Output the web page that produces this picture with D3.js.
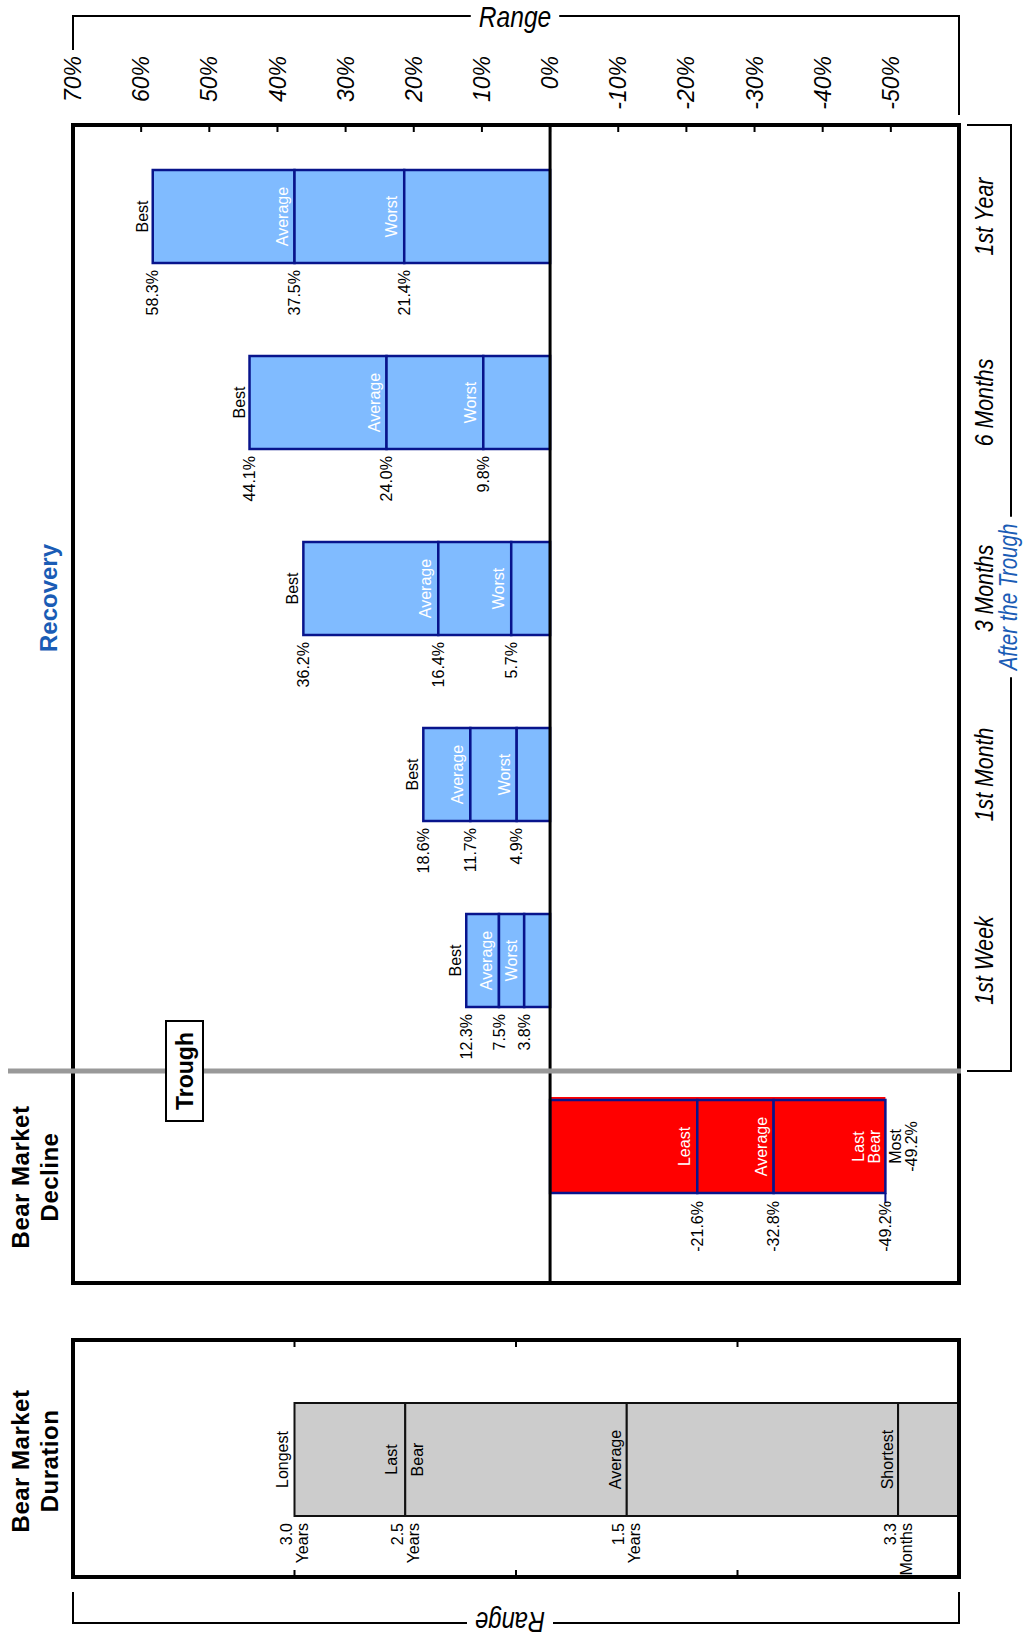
<!DOCTYPE html>
<html>
<head>
<meta charset="utf-8">
<script src="https://cdn.jsdelivr.net/npm/d3@7"></script>
<style>
  body { margin: 0; background: #fff; }
  svg { display: block; }
</style>
</head>
<body>
<script>
// ---- data -------------------------------------------------------------
const periods = ["1st Year", "6 Months", "3 Months", "1st Month", "1st Week"];
const bestReturns = [58.3, 44.1, 36.2, 18.6, 12.3];
const averageReturns = [37.5, 24.0, 16.4, 11.7, 7.5];
const worstReturns = [21.4, 9.8, 5.7, 4.9, 3.8];

const declineNames = ["Least", "Average", "Last Bear"];
const declineValues = [-21.6, -32.8, -49.2];

const durationNames = ["Longest", "Last Bear", "Average", "Shortest"];
const durationYears = [3.0, 2.5, 1.5, 0.275];
const durationText = ["3.0 Years", "2.5 Years", "1.5 Years", "3.3 Months"];

const pctTicks = [70, 60, 50, 40, 30, 20, 10, 0, -10, -20, -30, -40, -50];
const yearTicks = [1, 2, 3];

// ---- layout -----------------------------------------------------------
const W = 1024, H = 1638;
const L = 73, R = 959;
const upTop = 125, upBot = 1283;
const lowTop = 1340, lowBot = 1577;

const SANS = "'Liberation Sans', Arial, Helvetica, sans-serif";
const NARROW_SX = 0.82; // horizontal squeeze that gives a condensed face
const BLUE_FILL = "#80bbff", NAVY = "#08148c", RED = "#ff0000", GREY = "#cccccc";
const TITLE_BLUE = "#1a5cb5";

const svg = d3.select("body").append("svg").attr("width", W).attr("height", H);

const x = d3.scaleLinear().domain([70, -60]).range([L, R]);
const xd = d3.scaleLinear().domain([4, 0]).range([L, R]);
const rows = periods.concat(["Decline"]);
const y = d3.scaleBand().domain(rows).range([170, 1193]).paddingInner(0.5);
const bw = y.bandwidth();

// vertical (rotated) text helper: lines stack to the right
function vText(sel, px, py, lines, o) {
  const sx = o.sx || 1;
  const t = sel.append("text")
    .attr("transform", `translate(${px},${py}) rotate(${o.rot ?? -90}) scale(${sx},1)`)
    .attr("text-anchor", o.anchor || "middle")
    .attr("font-family", o.family || SANS)
    .attr("font-size", o.size)
    .attr("font-weight", o.weight || "normal")
    .attr("font-style", o.style || "normal")
    .attr("letter-spacing", o.ls || 0)
    .attr("fill", o.fill || "#000");
  const lh = o.lh || o.size;
  lines.forEach((s, i) => {
    t.append("tspan").attr("x", 0).attr("y", (o.base || 0) + i * lh).text(s);
  });
  return t;
}
const center1 = s => 0.35 * s;                      // baseline that centres one line
const center2 = (s, lh) => -(lh - 0.716 * s) / 2;   // first baseline centring two lines

// ---- recovery bars ----------------------------------------------------
const gBars = svg.append("g");
periods.forEach((p, i) => {
  const segs = [[bestReturns[i], averageReturns[i]], [averageReturns[i], worstReturns[i]], [worstReturns[i], 0]];
  segs.forEach(([a, b]) => {
    gBars.append("rect")
      .attr("x", x(a)).attr("y", y(p))
      .attr("width", x(b) - x(a)).attr("height", bw)
      .attr("fill", BLUE_FILL).attr("stroke", NAVY).attr("stroke-width", 2.5);
  });
  const mid = y(p) + bw / 2;
  vText(gBars, x(bestReturns[i]) - 5, mid, ["Best"], { size: 16 });
  vText(gBars, x(averageReturns[i]) - 7, mid, ["Average"], { size: 16, fill: "#fff" });
  vText(gBars, x(worstReturns[i]) - 7, mid, ["Worst"], { size: 16, fill: "#fff" });
  [bestReturns[i], averageReturns[i], worstReturns[i]].forEach(v => {
    vText(gBars, x(v), y(p) + bw + 7, [v.toFixed(1) + "%"], { size: 16, anchor: "end", base: center1(16) });
  });
});

// ---- bear market decline bar -----------------------------------------
const gDec = svg.append("g");
const dTop = y("Decline");
gDec.append("rect").attr("x", x(0)).attr("y", dTop - 3)
  .attr("width", x(declineValues[2]) - x(0)).attr("height", 4).attr("fill", RED);
[[0, declineValues[0]], [declineValues[0], declineValues[1]], [declineValues[1], declineValues[2]]].forEach(([a, b]) => {
  gDec.append("rect")
    .attr("x", x(a)).attr("y", dTop)
    .attr("width", x(b) - x(a)).attr("height", bw)
    .attr("fill", RED).attr("stroke", NAVY).attr("stroke-width", 2.5);
});
gDec.append("line")
  .attr("x1", x(declineValues[2])).attr("x2", x(declineValues[2]))
  .attr("y1", dTop + bw).attr("y2", dTop + bw + 10)
  .attr("stroke", NAVY).attr("stroke-width", 2);
const dMid = dTop + bw / 2;
vText(gDec, x(declineValues[0]) - 7, dMid, ["Least"], { size: 16, fill: "#fff" });
vText(gDec, x(declineValues[1]) - 7, dMid, ["Average"], { size: 16, fill: "#fff" });
vText(gDec, x(declineValues[2]) - 21, dMid, ["Last", "Bear"], { size: 16, fill: "#fff", lh: 16 });
vText(gDec, x(declineValues[2]) + 16, dMid, ["Most", declineValues[2].toFixed(1) + "%"], { size: 16, lh: 16 });
declineValues.forEach(v => {
  vText(gDec, x(v), dTop + bw + 8, [v.toFixed(1) + "%"], { size: 16, anchor: "end", base: center1(16) });
});

// ---- zero line, frame, ticks (upper panel) ---------------------------
svg.append("line")
  .attr("x1", x(0)).attr("x2", x(0)).attr("y1", upTop).attr("y2", upBot)
  .attr("stroke", "#000").attr("stroke-width", 3);
svg.append("rect")
  .attr("x", L).attr("y", upTop).attr("width", R - L).attr("height", upBot - upTop)
  .attr("fill", "none").attr("stroke", "#000").attr("stroke-width", 4);
svg.append("g").selectAll("line").data(d3.range(60, -60, -10)).join("line")
  .attr("x1", d => x(d)).attr("x2", d => x(d))
  .attr("y1", upTop).attr("y2", upTop + 7)
  .attr("stroke", "#000").attr("stroke-width", 2);

// tick labels along the top
const gTicks = svg.append("g");
pctTicks.forEach(v => {
  vText(gTicks, x(v), 56, [v + "%"], { size: 23, style: "italic", anchor: "end", base: center1(23) });
});

// top range bracket
const rangeTop = svg.append("text")
  .attr("transform", `translate(515,16) scale(${NARROW_SX},1)`).attr("dy", "0.35em")
  .attr("text-anchor", "middle").attr("font-family", SANS).attr("font-style", "italic")
  .attr("font-size", 30).text("Range");
const rw = rangeTop.node().getComputedTextLength() * NARROW_SX;
svg.append("path").attr("fill", "none").attr("stroke", "#000").attr("stroke-width", 2)
  .attr("d", `M${L},50 V16 H${515 - rw / 2 - 8} M${515 + rw / 2 + 8},16 H${R} V115`);

// ---- trough divider --------------------------------------------------
const troughY = dTop - 29;
svg.append("line")
  .attr("x1", 8).attr("x2", R + 2).attr("y1", troughY).attr("y2", troughY)
  .attr("stroke", "#999").attr("stroke-width", 5);
svg.append("rect").attr("x", 166).attr("y", troughY - 50).attr("width", 37).attr("height", 100)
  .attr("fill", "#fff").attr("stroke", "#000").attr("stroke-width", 2);
vText(svg, 184.5, troughY, ["Trough"], { size: 23, weight: "bold", base: center1(23) });

// right-hand period labels and bracket
const gRight = svg.append("g");
periods.forEach(p => {
  vText(gRight, 984, y(p) + bw / 2, [p], { size: 26, style: "italic", sx: NARROW_SX, base: center1(26) });
});
const afterY = 597;
const afterT = vText(gRight, 1008, afterY, ["After the Trough"], {
  size: 25, style: "italic", sx: NARROW_SX, fill: TITLE_BLUE, base: center1(25)
});
const aw = afterT.node().getComputedTextLength() * NARROW_SX;
gRight.append("path").attr("fill", "none").attr("stroke", "#000").attr("stroke-width", 2)
  .attr("d", `M967,${upTop} H1011 V${afterY - aw / 2 - 7} M1011,${afterY + aw / 2 + 7} V${troughY} H967`);

// ---- section titles --------------------------------------------------
vText(svg, 57, 598, ["Recovery"], { size: 24, weight: "bold", fill: TITLE_BLUE });
vText(svg, 29, 1177, ["Bear Market", "Decline"], { size: 24, weight: "bold", lh: 29, ls: 0.5 });
vText(svg, 29, 1461, ["Bear Market", "Duration"], { size: 24, weight: "bold", lh: 29, ls: 0.5 });

// ---- duration panel --------------------------------------------------
const gDur = svg.append("g");
const durTop = 1403, durH = 113;
const durEdges = durationYears.concat([0]);
for (let i = 0; i < durationYears.length; i++) {
  gDur.append("rect")
    .attr("x", xd(durEdges[i])).attr("y", durTop)
    .attr("width", xd(durEdges[i + 1]) - xd(durEdges[i])).attr("height", durH)
    .attr("fill", GREY).attr("stroke", "#111").attr("stroke-width", 2);
}
const durMid = durTop + durH / 2;
vText(gDur, xd(durationYears[0]) - 7, durMid, ["Longest"], { size: 16 });
vText(gDur, xd(durationYears[1]) - 8, durMid, ["Last"], { size: 16 });
vText(gDur, xd(durationYears[1]) + 18, durMid, ["Bear"], { size: 16 });
vText(gDur, xd(durationYears[2]) - 6, durMid, ["Average"], { size: 16 });
vText(gDur, xd(durationYears[3]) - 5, durMid, ["Shortest"], { size: 16 });
durationYears.forEach((v, i) => {
  vText(gDur, xd(v), durTop + durH + 7, durationText[i].split(" "),
    { size: 16, anchor: "end", lh: 16, base: center2(16, 16) });
});

svg.append("rect")
  .attr("x", L).attr("y", lowTop).attr("width", R - L).attr("height", lowBot - lowTop)
  .attr("fill", "none").attr("stroke", "#000").attr("stroke-width", 4);
const gYt = svg.append("g").attr("stroke", "#000").attr("stroke-width", 2);
yearTicks.forEach(v => {
  gYt.append("line").attr("x1", xd(v)).attr("x2", xd(v)).attr("y1", lowTop).attr("y2", lowTop + 7);
  gYt.append("line").attr("x1", xd(v)).attr("x2", xd(v)).attr("y1", lowBot).attr("y2", lowBot - 7);
});

// bottom range bracket (upside down)
const rangeBot = svg.append("text")
  .attr("transform", `translate(510,1622) rotate(180) scale(${NARROW_SX},1)`).attr("dy", "0.35em")
  .attr("text-anchor", "middle").attr("font-family", SANS).attr("font-style", "italic")
  .attr("font-size", 29).text("Range");
const rbw = rangeBot.node().getComputedTextLength() * NARROW_SX;
svg.append("path").attr("fill", "none").attr("stroke", "#000").attr("stroke-width", 2)
  .attr("d", `M${L},1592 V1623 H${510 - rbw / 2 - 8} M${510 + rbw / 2 + 8},1623 H${R} V1592`);
</script>
</body>
</html>
